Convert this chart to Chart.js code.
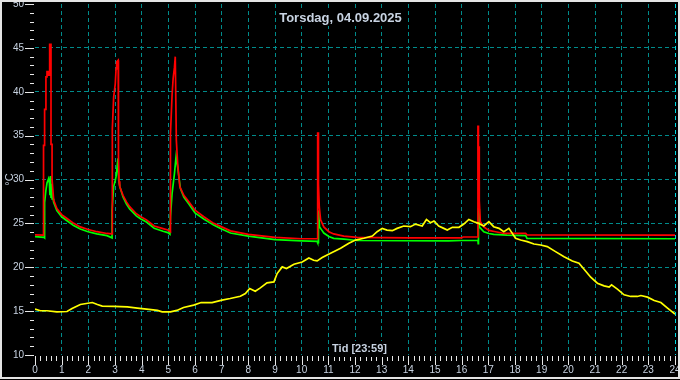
<!DOCTYPE html>
<html>
<head>
<meta charset="utf-8">
<script src="https://cdn.jsdelivr.net/npm/chart.js@4.4.1/dist/chart.umd.min.js"></script>
<style>
  html, body { margin: 0; padding: 0; background: #000; }
  #wrap { width: 680px; height: 380px; }
</style>
</head>
<body>
<div id="wrap"><canvas id="chart" width="680" height="380"></canvas></div>
<script>
// values (hours, °C)
const redHours = [0.00, 0.32, 0.32, 0.36, 0.36, 0.41, 0.41, 0.45, 0.45, 0.51, 0.51, 0.55, 0.55, 0.60, 0.60, 0.64, 0.64, 0.70, 0.82, 1.00,
  1.20, 1.45, 1.70, 1.99, 2.32, 2.70, 2.89, 2.89, 2.91, 2.95, 3.01, 3.04, 3.06, 3.12, 3.13, 3.15, 3.18, 3.30, 3.43, 3.55,
  3.80, 3.97, 4.18, 4.47, 4.80, 4.98, 5.08, 5.08, 5.14, 5.18, 5.23, 5.26, 5.28, 5.30, 5.35, 5.43, 5.58, 5.77, 6.00, 6.33,
  6.70, 7.00, 7.33, 8.00, 9.00, 10.00, 10.60, 10.60, 10.63, 10.63, 10.66, 10.71, 10.83, 11.02, 11.20, 11.58, 12.08, 14.00, 16.00, 16.05,
  16.61, 16.61, 16.63, 16.63, 16.66, 16.66, 16.70, 16.83, 17.02, 17.27, 17.60, 18.40, 18.45, 24.00];
const redTemps = [23.70, 23.65, 33.90, 33.90, 38.00, 38.00, 41.70, 41.70, 42.30, 42.30, 41.90, 41.90, 45.40, 45.40, 34.00, 34.00, 30.00, 27.65, 26.70, 26.00,
  25.55, 25.00, 24.60, 24.30, 24.05, 23.85, 23.80, 27.60, 35.80, 39.40, 40.90, 42.60, 43.40, 43.60, 32.60, 29.80, 29.16, 28.20, 27.45, 26.90,
  26.10, 25.75, 25.40, 24.70, 24.40, 24.24, 24.05, 35.20, 39.60, 41.50, 42.80, 44.00, 44.00, 34.50, 31.80, 29.20, 28.20, 27.45, 26.50, 25.75,
  25.00, 24.60, 24.15, 23.75, 23.40, 23.25, 23.25, 35.30, 35.30, 29.50, 26.90, 25.40, 24.60, 24.05, 23.80, 23.55, 23.40, 23.35, 23.35, 23.45,
  23.45, 36.05, 36.05, 33.70, 33.70, 27.60, 25.20, 24.60, 24.20, 24.05, 23.85, 23.85, 23.70, 23.65];

const greenHours = [0.00, 0.34, 0.36, 0.36, 0.41, 0.45, 0.51, 0.54, 0.56, 0.58, 0.60, 0.62, 0.64, 0.68, 0.70, 0.82, 1.00, 1.20, 1.45, 1.70,
  1.99, 2.32, 2.70, 2.89, 2.89, 2.95, 3.01, 3.05, 3.11, 3.14, 3.18, 3.30, 3.43, 3.55, 3.80, 3.97, 4.18, 4.47, 4.80, 4.98,
  5.06, 5.08, 5.14, 5.23, 5.29, 5.35, 5.45, 5.58, 5.77, 6.00, 6.33, 6.70, 7.00, 7.33, 8.00, 9.00, 10.00, 10.58, 10.60, 10.62,
  10.62, 10.64, 10.67, 10.76, 10.83, 11.02, 11.20, 11.58, 12.08, 15.50, 16.00, 16.61, 16.62, 16.63, 16.63, 16.65, 16.66, 16.83, 17.02, 17.20,
  17.70, 18.40, 18.45, 24.00];
const greenTemps = [23.50, 23.40, 23.35, 27.35, 28.80, 29.60, 30.10, 29.60, 28.20, 30.40, 28.00, 29.50, 27.80, 27.80, 27.40, 26.45, 25.75, 25.30, 24.75, 24.35,
  24.05, 23.80, 23.60, 23.35, 26.50, 29.20, 29.90, 30.50, 32.40, 29.90, 29.20, 28.00, 27.20, 26.65, 25.85, 25.50, 25.15, 24.45, 24.10, 23.95,
  23.75, 25.80, 28.40, 30.70, 32.60, 31.40, 29.00, 28.00, 27.20, 26.20, 25.50, 24.80, 24.35, 23.90, 23.55, 23.15, 23.00, 22.95, 22.80, 22.80,
  26.50, 26.50, 24.60, 24.20, 23.90, 23.50, 23.30, 23.20, 23.05, 23.00, 23.05, 23.05, 22.70, 22.70, 26.65, 26.65, 24.60, 24.05, 23.85, 23.75,
  23.65, 23.60, 23.30, 23.25];

const yellowHours = [0.00, 0.20, 0.45, 0.82, 1.20, 1.39, 1.70, 2.15, 2.34, 2.52, 2.96, 3.46, 3.84, 4.27, 4.59, 4.77, 5.08, 5.32, 5.57, 5.95,
  6.23, 6.64, 7.01, 7.32, 7.70, 7.89, 8.05, 8.26, 8.45, 8.70, 8.96, 9.08, 9.27, 9.43, 9.71, 10.02, 10.27, 10.45, 10.58, 10.77,
  11.01, 11.46, 11.77, 12.02, 12.33, 12.65, 12.83, 13.02, 13.20, 13.40, 13.58, 13.83, 14.08, 14.27, 14.52, 14.68, 14.83, 14.96, 15.14, 15.33,
  15.46, 15.65, 15.90, 16.08, 16.27, 16.46, 16.64, 16.83, 17.02, 17.20, 17.40, 17.58, 17.77, 17.90, 18.02, 18.21, 18.46, 18.71, 18.96, 19.21,
  19.52, 19.84, 20.15, 20.40, 20.59, 20.84, 21.09, 21.34, 21.53, 21.62, 21.84, 22.09, 22.34, 22.59, 22.72, 22.97, 23.22, 23.47, 23.72, 24.00];
const yellowTemps = [15.23, 15.04, 15.04, 14.92, 14.96, 15.30, 15.76, 15.98, 15.76, 15.57, 15.53, 15.49, 15.34, 15.19, 15.08, 14.92, 14.92, 15.08, 15.42, 15.68,
  15.98, 15.98, 16.25, 16.44, 16.70, 17.00, 17.58, 17.27, 17.65, 18.22, 18.33, 19.28, 20.04, 19.85, 20.34, 20.60, 21.06, 20.80, 20.72, 21.10,
  21.48, 22.16, 22.73, 23.10, 23.30, 23.56, 24.05, 24.43, 24.24, 24.17, 24.43, 24.70, 24.62, 24.92, 24.70, 25.45, 25.08, 25.27, 24.70, 24.43,
  24.24, 24.55, 24.55, 24.92, 25.45, 25.19, 25.00, 24.70, 25.19, 24.62, 24.43, 24.05, 24.43, 23.86, 23.30, 23.10, 22.92, 22.65, 22.54, 22.35,
  21.78, 21.21, 20.72, 20.45, 19.77, 18.86, 18.18, 17.88, 17.73, 17.99, 17.50, 16.86, 16.67, 16.67, 16.78, 16.59, 16.21, 15.98, 15.34, 14.65];

const chartTitle = 'Torsdag, 04.09.2025';
const xTitle = 'Tid [23:59]';
const yTitle = '°C';

const FONT = '"Liberation Sans", Arial, sans-serif';
const LABEL = '#c8d3e2';
const GRID = '#008b8b';

function points(hours, temps) {
  return hours.map((h, i) => ({ x: h, y: temps[i] }));
}

// black background, frame, tick marks and the two captions
const decor = {
  id: 'decor',
  beforeDraw(chart) {
    const ctx = chart.ctx;
    ctx.save();
    ctx.fillStyle = '#000';
    ctx.fillRect(0, 0, chart.width, chart.height);
    ctx.restore();
  },
  afterDraw(chart) {
    const { ctx, chartArea: a, scales: { x, y } } = chart;
    ctx.save();
    ctx.strokeStyle = '#e8e8e8';
    ctx.lineWidth = 1;
    ctx.beginPath();
    for (let v = 10; v <= 50; v++) {
      const py = Math.round(y.getPixelForValue(v)) + 0.5;
      const len = v % 5 === 0 ? 9 : 4;
      ctx.moveTo(a.left - 1 - len, py);
      ctx.lineTo(a.left - 1, py);
    }
    for (let i = 0; i <= 120; i++) {
      const px = Math.round(x.getPixelForValue(i / 5)) + 0.5;
      const len = i % 5 === 0 ? 9 : 5;
      ctx.moveTo(px, a.bottom + 1);
      ctx.lineTo(px, a.bottom + 1 + len);
    }
    ctx.stroke();

    const caption = (text, font, cx, cy) => {
      ctx.font = font;
      const w = ctx.measureText(text).width;
      ctx.fillStyle = '#000';
      ctx.fillRect(cx - w / 2 - 2, cy - 8, w + 4, 16);
      ctx.fillStyle = LABEL;
      ctx.textAlign = 'center';
      ctx.textBaseline = 'middle';
      ctx.fillText(text, cx, cy);
    };
    caption(chartTitle, 'bold 13px ' + FONT, 340.5, 18);
    caption(xTitle, 'bold 11px ' + FONT, 359.5, 349);

    ctx.strokeStyle = '#e4e4e4';
    ctx.lineWidth = 2;
    ctx.strokeRect(1, 1, chart.width - 2, chart.height - 3);
    ctx.restore();
  }
};

new Chart(document.getElementById('chart'), {
  type: 'line',
  data: {
    datasets: [
      { data: points(yellowHours, yellowTemps), borderColor: '#ffff00', borderWidth: 1.7 },
      { data: points(redHours, redTemps), borderColor: '#ff0000', borderWidth: 1.7 },
      { data: points(greenHours, greenTemps), borderColor: '#00ff00', borderWidth: 1.7 }
    ]
  },
  options: {
    responsive: false,
    animation: false,
    events: [],
    layout: { padding: { left: 0, top: 4, right: 5, bottom: 0 } },
    elements: { point: { radius: 0 }, line: { tension: 0 } },
    plugins: { legend: { display: false }, tooltip: { enabled: false } },
    scales: {
      x: {
        type: 'linear',
        min: 0,
        max: 24,
        ticks: { stepSize: 1, autoSkip: false, maxRotation: 0, padding: 9, color: LABEL, font: { family: FONT, size: 10 } },
        grid: {
          drawTicks: false,
          color: c => c.tick.value === 0 ? 'transparent' : (c.tick.value === 24 ? '#00d8e0' : GRID)
        },
        border: { display: false, dash: [4, 3] },
        afterFit: s => { s.height = 25; s.paddingLeft = 0; s.paddingRight = 0; }
      },
      y: {
        min: 10,
        max: 50,
        ticks: { stepSize: 5, padding: 11, color: LABEL, font: { family: FONT, size: 10 } },
        grid: {
          drawTicks: false,
          color: c => (c.tick.value === 10 || c.tick.value === 50) ? 'transparent' : GRID
        },
        border: { display: false, dash: [4, 3] },
        title: { display: true, text: yTitle, color: LABEL, font: { family: FONT, size: 11 }, padding: { top: 3, bottom: 0 } },
        afterFit: s => { s.width = 35; s.paddingTop = 0; s.paddingBottom = 0; }
      }
    }
  },
  plugins: [decor]
});
</script>
</body>
</html>
